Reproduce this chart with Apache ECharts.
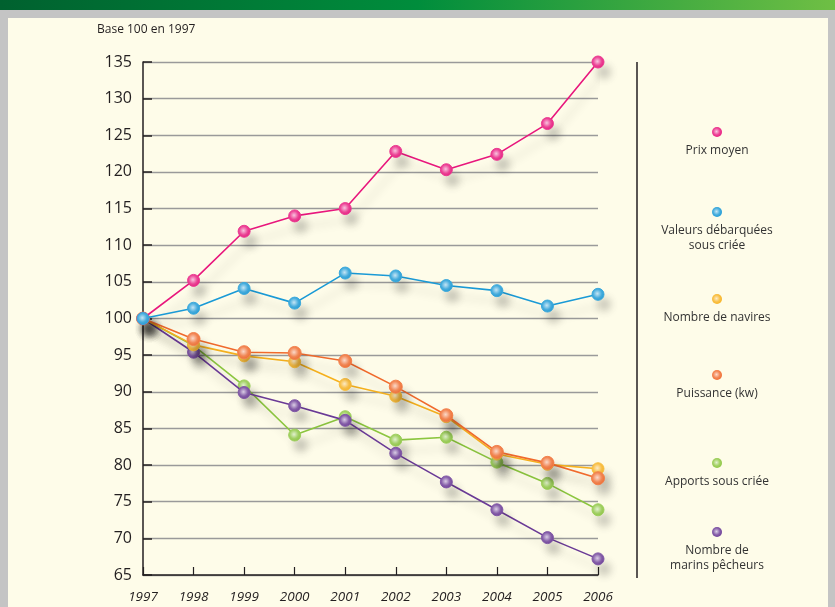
<!DOCTYPE html>
<html><head><meta charset="utf-8">
<script src="https://cdn.jsdelivr.net/npm/echarts@6/dist/echarts.min.js"></script>
<style>html,body{margin:0;padding:0;background:#c4c4c4;}#c{width:835px;height:607px;}</style>
</head><body><div id="c"></div>
<script>
var years = ['1997','1998','1999','2000','2001','2002','2003','2004','2005','2006'];
var prixMoyen = [100, 105.2, 111.9, 114.0, 115.0, 122.8, 120.3, 122.4, 126.6, 135.0];
var valeursDebarquees = [100, 101.4, 104.1, 102.1, 106.2, 105.8, 104.5, 103.8, 101.7, 103.3];
var nombreNavires = [100, 96.4, 94.9, 94.1, 91.0, 89.4, 86.6, 81.5, 80.1, 79.5];
var puissance = [100, 97.2, 95.4, 95.3, 94.2, 90.7, 86.8, 81.8, 80.3, 78.2];
var apports = [100, 96.3, 90.8, 84.1, 86.6, 83.4, 83.8, 80.4, 77.5, 73.9];
var marins = [100, 95.4, 89.9, 88.1, 86.1, 81.6, 77.7, 73.9, 70.1, 67.2];
var seriesNames = ['Prix moyen', 'Valeurs débarquées\nsous criée', 'Nombre de navires', 'Puissance (kw)', 'Apports sous criée', 'Nombre de\nmarins pêcheurs'];
var seriesData = [prixMoyen, valeursDebarquees, nombreNavires, puissance, apports, marins];
var colors = ['#e8177d', '#1a9ad6', '#f7b21e', '#f06a2c', '#8cc63f', '#6a3a96'];
var legendDotY = [132, 212, 299, 375, 463, 532];
var stackOrder = [9, 10, 7, 8, 5, 6];

function lighten(hex, t) {
  var r = parseInt(hex.substr(1,2),16), g = parseInt(hex.substr(3,2),16), b = parseInt(hex.substr(5,2),16);
  r = Math.round(r + (255-r)*t); g = Math.round(g + (255-g)*t); b = Math.round(b + (255-b)*t);
  return 'rgb(' + r + ',' + g + ',' + b + ')';
}
function ballColor(c) {
  return new echarts.graphic.RadialGradient(0.45, 0.45, 0.6, [
    {offset: 0, color: lighten(c, 0.75)},
    {offset: 0.55, color: lighten(c, 0.2)},
    {offset: 1, color: c}
  ]);
}

var chart = echarts.init(document.getElementById('c'));
var series = seriesData.map(function (d, i) {
  return {
    name: seriesNames[i], type: 'line', data: d,
    symbol: 'circle', symbolSize: i === 3 ? 13 : 12,
    z: stackOrder[i],
    lineStyle: {color: colors[i], width: 1.6, shadowColor: 'rgba(0,0,0,0.2)', shadowBlur: 10, shadowOffsetX: 6, shadowOffsetY: 11},
    itemStyle: {color: ballColor(colors[i]), borderColor: lighten(colors[i], 0.15), borderWidth: 1, shadowColor: 'rgba(0,0,0,0.22)', shadowBlur: 9, shadowOffsetX: 6, shadowOffsetY: 10},
    emphasis: {disabled: true},
    animation: false
  };
});

var graphics = [
  {type: 'rect', shape: {x: 0, y: 0, width: 835, height: 10}, style: {fill: new echarts.graphic.LinearGradient(0, 0, 1, 0, [{offset: 0, color: '#00612f'}, {offset: 0.5, color: '#008d3c'}, {offset: 1, color: '#6fbf44'}])}, z: -10},
  {type: 'rect', shape: {x: 8, y: 18, width: 820, height: 589}, style: {fill: '#fefce9'}, z: -10},
  {type: 'text', left: 97, top: 24, style: {text: 'Base 100 en 1997', font: '12px "Liberation Sans Narrow", "Open Sans", sans-serif', fill: '#231f20'}},
  {type: 'line', shape: {x1: 637, y1: 62, x2: 637, y2: 578}, style: {stroke: '#231f20', lineWidth: 1.5}}
];
seriesNames.forEach(function (n, i) {
  graphics.push({type: 'circle', shape: {cx: 717, cy: legendDotY[i], r: 5}, style: {fill: ballColor(colors[i])}});
  graphics.push({type: 'text', x: 717, y: legendDotY[i] + 11, style: {text: n, font: '12px "Open Sans", sans-serif', fill: '#333', align: 'center', verticalAlign: 'top', lineHeight: 15}});
});

chart.setOption({
  backgroundColor: 'transparent',
  animation: false,
  grid: {left: 143, right: 237, top: 62, bottom: 32},
  xAxis: {
    type: 'category', data: years, boundaryGap: false,
    axisLine: {lineStyle: {color: '#231f20', width: 1.5}},
    axisTick: {inside: true, length: 8, lineStyle: {color: '#231f20', width: 1.2}},
    axisLabel: {fontSize: 13.5, fontStyle: 'italic', color: '#231f20', margin: 15, fontFamily: '"Open Sans", sans-serif'},
    splitLine: {show: false}
  },
  yAxis: {
    type: 'value', min: 65, max: 135, interval: 5,
    axisLine: {show: true, lineStyle: {color: '#231f20', width: 1.5}},
    axisTick: {show: true, inside: true, length: 9, lineStyle: {color: '#231f20', width: 1.5}},
    axisLabel: {fontSize: 16, color: '#231f20', margin: 11, fontFamily: '"Open Sans", sans-serif'},
    splitLine: {lineStyle: {color: '#9a9a9a', width: 1.3}}
  },
  series: series,
  graphic: graphics
});
</script></body></html>
